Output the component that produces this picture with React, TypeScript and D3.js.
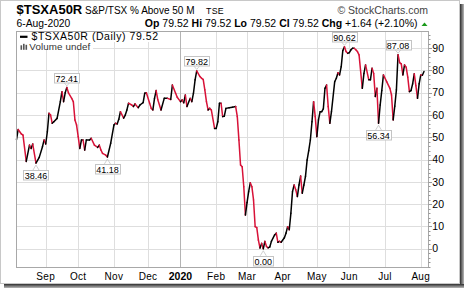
import React from "react";
import * as d3 from "d3";

// ---- data (trading-day index from first point, % of S&P/TSX stocks above 50-day MA)
const dayIndex = [
  0, 1, 3, 4, 6, 8, 9, 10, 12, 14, 16, 17, 18, 19, 20, 21, 22, 23, 25, 27, 28, 29, 30, 31, 32, 34, 35, 36, 37, 38,
  39, 40, 41, 42, 43, 45, 46, 48, 50, 51, 52, 53, 55, 56, 58, 60, 61, 62, 63, 64, 66, 67, 68, 69, 71, 72, 73, 75, 76, 78,
  79, 80, 82, 83, 84, 85, 86, 87, 89, 91, 93, 95, 96, 98, 99, 101, 102, 103, 104, 105, 107, 108, 109, 110, 111, 113, 114, 115, 116, 117,
  118, 119, 120, 122, 123, 124, 125, 126, 127, 128, 129, 131, 133, 135, 136, 137, 138, 139, 140, 141, 142, 143, 144, 145, 146, 147, 148, 149, 150, 151,
  152, 153, 154, 155, 156, 157, 159, 160, 161, 162, 163, 165, 166, 167, 168, 169, 170, 171, 172, 173, 174, 175, 176, 177, 178, 179, 180, 181, 182, 183,
  184, 185, 186, 187, 188, 189, 190, 191, 192, 193, 194, 196, 197, 198, 199, 200, 201, 202, 203, 204, 205, 206, 207, 208, 209, 210, 211, 213, 214, 215,
  217, 218, 219, 220, 221, 222, 223, 224, 225, 226, 228, 230, 231, 232, 233, 234, 235, 236, 237, 238, 239, 240, 241, 242, 243, 244, 245, 246, 247, 248,
  249, 250, 251,
];
const pctAbove = [
  49, 53.5, 51.5, 51, 39.2, 46.5, 45, 47, 38.46, 41, 45.8, 48.8, 47, 52.5, 60.8, 60, 56.3, 57, 58.5, 66, 70.5, 66, 70, 72.41, 70, 67.5, 66, 57.8, 55.5, 50.3,
  45, 48.8, 48.8, 44.3, 48.8, 48.8, 49.6, 46.5, 45.5, 46.5, 44.3, 42.8, 42, 41.18, 47.3, 55.5, 56.3, 56, 58.1, 61.5, 58.6, 60, 62.3, 65.3, 64.5, 63.8, 65, 63.3, 64.5, 65.6,
  69.8, 70, 65.3, 63, 62.3, 67.5, 71, 67, 62.3, 67.5, 67.5, 67, 73.5, 69.8, 68, 66, 66.8, 65.5, 69, 63.8, 67.5, 66, 69.8, 75.8, 79.82, 77.3, 76.5, 76, 71.3, 66,
  62.3, 63, 62.3, 54, 54, 57, 65.3, 65.3, 59.3, 59.5, 63, 63.3, 63.5, 63.8, 59.3, 48.8, 37.6, 36.8, 27.8, 15.1, 20.7, 25.6, 29.6, 27.8, 21.9, 9.9, 9.5, 3.9, 0.3, 2.4,
  0.0, 3.3, 1.0, 0.4, 0.8, 3.3, 6.2, 7.0, 2.9, 3.3, 2.9, 4.9, 7.0, 9.9, 8.5, 15.9, 25.6, 28.6, 26.5, 23.4, 28.6, 32.6, 24.9, 28.6, 32.5, 39.8, 44, 48.8, 57, 66,
  59.3, 50.3, 57.8, 61.5, 61.5, 62.8, 72, 73.5, 63.8, 56.3, 61.5, 75, 76.5, 79, 78, 81.7, 89, 90.62, 88.5, 87.7, 88, 89.3, 90, 90, 89.3, 88.5, 87, 72, 78.7, 82.5,
  75.8, 75.8, 81, 78.7, 68.3, 72, 56.34, 64.5, 71, 78, 75, 72, 69, 57.8, 64, 71.3, 87.08, 83.5, 83, 78, 82.5, 81.5, 77, 70.5, 71, 74, 78.5, 73.2, 67.5, 74,
  78, 77.88, 79.52,
];

const monthLabels = ["Sep", "Oct", "Nov", "Dec", "2020", "Feb", "Mar", "Apr", "May", "Jun", "Jul", "Aug"];
const monthStartIdx = [18, 38, 60, 81, 101, 123, 142, 164, 185, 205, 227, 249];
const yTicks = [0, 10, 20, 30, 40, 50, 60, 70, 80, 90];

// labelled extremes: value and whether it's a peak (above) or trough (below)
const markValues = [38.46, 72.41, 41.18, 79.82, 0.0, 90.62, 56.34, 87.08];
const markIsHigh = [false, true, false, true, false, true, false, true];

const W = 464;
const H = 288;
const L = 16.5;
const R = 428.5;
const T = 31.5;
const B = 267;

const RED = "#d81238";
const FONT = "'Liberation Sans', Arial, sans-serif";

export default function App() {
  const x = d3.scaleLinear().domain([0, 251]).range([16.5, 424]);
  const y = d3.scaleLinear().domain([-8.2, 97.5]).range([B, T]);

  const pts = dayIndex.map((d, i) => [x(d), y(pctAbove[i])] as [number, number]);
  const seg = d3.line();

  const crisp = (v: number) => Math.round(v) + 0.5;

  const minorTicks = d3.range(-8, 97, 2);

  const marks = markValues.map((mv, k) => {
    const i = pctAbove.findIndex((v) => v === mv);
    const px = x(dayIndex[i]);
    const py = y(pctAbove[i]);
    const label = mv.toFixed(2);
    const w = label.length * 4.6 + 2;
    const h = 9.5;
    const high = markIsHigh[k];
    const by = high ? py - 5 - h : py + 7;
    return { px, py, label, w, h, by, high };
  });

  return (
    <svg
      width={W}
      height={H}
      style={{ position: "absolute", left: 0, top: 0 }}
      xmlns="http://www.w3.org/2000/svg"
    >
      <defs>
        <linearGradient id="shR" x1="0" x2="1" y1="0" y2="0">
          <stop offset="0" stopColor="#2e2e2e" />
          <stop offset="1" stopColor="#b8b8b8" />
        </linearGradient>
        <linearGradient id="shB" x1="0" x2="0" y1="0" y2="1">
          <stop offset="0" stopColor="#2e2e2e" />
          <stop offset="1" stopColor="#b8b8b8" />
        </linearGradient>
      </defs>
      <rect x={0} y={0} width={W} height={H} fill="#fff" />
      {/* drop shadow */}
      <rect x={460} y={4} width={4} height={284} fill="url(#shR)" />
      <rect x={4} y={284} width={460} height={4} fill="url(#shB)" />
      <rect x={0.5} y={0.5} width={459} height={283} fill="#fff" stroke="#c8c8c8" />

      {/* header */}
      <text x={16.5} y={13.5} fontFamily={FONT} fontSize={13} fontWeight="bold" fill="#000">
        $TSXA50R
      </text>
      <text x={85} y={13.5} fontFamily={FONT} fontSize={10} fill="#000">
        S&amp;P/TSX % Above 50 M
      </text>
      <text x={206} y={13.5} fontFamily={FONT} fontSize={8.8} fill="#000" letterSpacing={0.3}>
        TSE
      </text>
      <text x={428} y={13.5} fontFamily={FONT} fontSize={10.5} fill="#444" textAnchor="end">
        © StockCharts.com
      </text>
      <text x={16.5} y={26.5} fontFamily={FONT} fontSize={10.3} fill="#000">
        6-Aug-2020
      </text>
      <text x={417.5} y={26.5} fontFamily={FONT} fontSize={10.5} fill="#000" textAnchor="end">
        <tspan fontWeight="bold">Op</tspan>
        <tspan> 79.52 </tspan>
        <tspan fontWeight="bold">Hi</tspan>
        <tspan> 79.52 </tspan>
        <tspan fontWeight="bold">Lo</tspan>
        <tspan> 79.52 </tspan>
        <tspan fontWeight="bold">Cl</tspan>
        <tspan> 79.52 </tspan>
        <tspan fontWeight="bold">Chg</tspan>
        <tspan> +1.64 (+2.10%)</tspan>
      </text>
      <path d="M421.5,26 L424.5,22.5 L427.5,26 Z" fill="#1a9a1a" />

      {/* grid */}
      {yTicks.map((t) => (
        <line key={"gy" + t} x1={L} x2={R} y1={crisp(y(t))} y2={crisp(y(t))} stroke="#dedede" strokeWidth={1} />
      ))}
      {monthStartIdx.map((m, k) => (
        <line
          key={"gx" + k}
          x1={crisp(x(m))}
          x2={crisp(x(m))}
          y1={T}
          y2={B}
          stroke={monthLabels[k] === "2020" ? "#b4b4b4" : "#dedede"}
          strokeWidth={1}
        />
      ))}

      {/* series, coloured by direction */}
      {pts.slice(1).map((p, i) => (
        <path
          key={"s" + i}
          d={seg([pts[i], p]) || ""}
          stroke={pctAbove[i + 1] >= pctAbove[i] ? "#000" : RED}
          strokeWidth={1.5}
          strokeLinecap="round"
          fill="none"
        />
      ))}

      {/* extreme labels */}
      {marks.map((m, k) => (
        <g key={"m" + k}>
          <path
            d={
              m.high
                ? `M${m.px - 3},${m.by + m.h} L${m.px},${m.py - 1.5} L${m.px + 3},${m.by + m.h}`
                : `M${m.px - 3},${m.by} L${m.px},${m.py + 2} L${m.px + 3},${m.by}`
            }
            fill="none"
            stroke="#c4c4c4"
            strokeWidth={0.8}
          />
          <rect
            x={Math.round(m.px - m.w / 2) + 0.5}
            y={Math.round(m.by) + 0.5}
            width={Math.round(m.w)}
            height={m.h}
            fill="#fff"
            stroke="#c4c4c4"
            strokeWidth={1}
          />
          <text
            x={m.px}
            y={Math.round(m.by) + 8.7}
            textAnchor="middle"
            fontFamily={FONT}
            fontSize={9}
            fill="#000"
          >
            {m.label}
          </text>
        </g>
      ))}

      {/* legend */}
      <rect x={17} y={32} width={150} height={10} fill="#fff" />
      <rect x={17} y={42} width={76} height={8} fill="#fff" />
      <line x1={20} x2={27.5} y1={36.8} y2={36.8} stroke="#000" strokeWidth={2.2} />
      <text x={31.5} y={40.3} fontFamily={FONT} fontSize={10.5} letterSpacing={0.55} fill="#000">
        $TSXA50R (Daily) 79.52
      </text>
      <g fill="#555">
        <rect x={20.5} y={45.3} width={1.6} height={4.5} />
        <rect x={23} y={43.8} width={1.6} height={6} />
        <rect x={25.5} y={44.8} width={1.6} height={5} />
      </g>
      <text x={29.3} y={49.8} fontFamily={FONT} fontSize={9.8} letterSpacing={0.1} fill="#333">
        Volume undef
      </text>

      {/* plot frame */}
      <rect x={L} y={T} width={R - L} height={B - T + 0.5} fill="none" stroke="#a8a8a8" strokeWidth={1} />

      {/* right axis */}
      {minorTicks.map((t) => (
        <line
          key={"mt" + t}
          x1={R}
          x2={t % 10 === 0 ? R + 3.5 : R + 2}
          y1={crisp(y(t))}
          y2={crisp(y(t))}
          stroke="#999"
          strokeWidth={1}
        />
      ))}
      {yTicks.map((t) => (
        <text key={"yl" + t} x={432.3} y={y(t) + 3.7} fontFamily={FONT} fontSize={10.5} fill="#000">
          {t}
        </text>
      ))}

      {/* month labels */}
      {monthStartIdx.map((m, k) => (
        <text
          key={"ml" + k}
          x={x(m)}
          y={279.5}
          textAnchor="middle"
          fontFamily={FONT}
          fontSize={monthLabels[k] === "2020" ? 10.5 : 10}
          fontWeight={monthLabels[k] === "2020" ? "bold" : "normal"}
          letterSpacing={monthLabels[k] === "2020" ? 0 : 0.3}
          fill="#000"
        >
          {monthLabels[k]}
        </text>
      ))}
    </svg>
  );
}
